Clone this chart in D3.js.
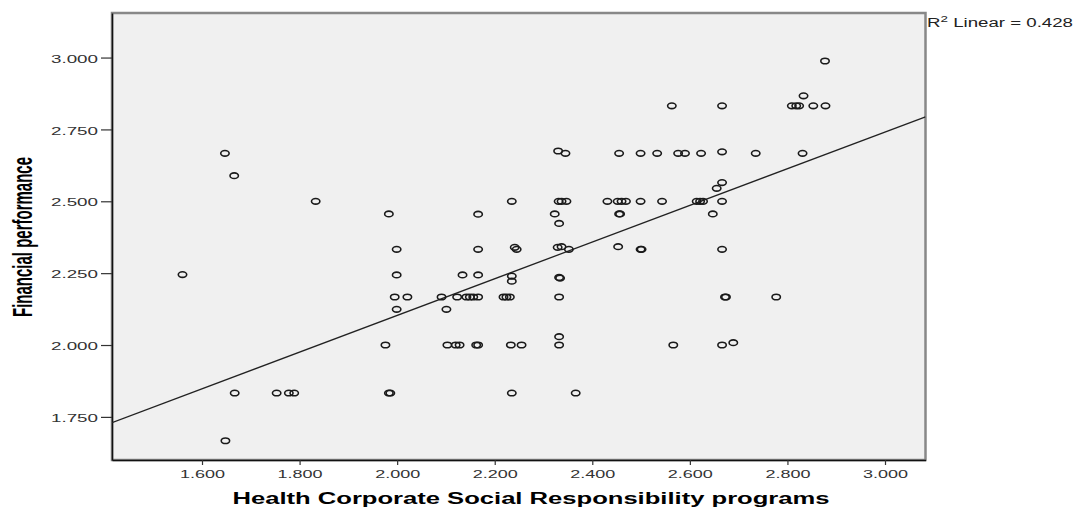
<!DOCTYPE html>
<html>
<head>
<meta charset="utf-8">
<script src="https://cdn.jsdelivr.net/npm/d3@7"></script>
<style>
  body { margin: 0; background: #fff; }
  text { font-family: "Liberation Sans", Arial, sans-serif; }
</style>
</head>
<body>
<div id="graph"></div>
<script>
const width = 1077,
  height = 508;

// Health CSR programs (x) and Financial performance (y), one entry per respondent
const csrScores = [
  1.560, 1.647, 1.666, 1.648, 1.667, 1.753, 1.778, 1.789, 1.833,
  1.983, 1.999, 1.999, 1.995, 2.021, 1.999, 1.976, 1.983, 1.986,
  2.091, 2.101, 2.103, 2.120, 2.128, 2.123, 2.134, 2.142, 2.149, 2.156, 2.166,
  2.166, 2.166, 2.166, 2.162, 2.166, 2.218, 2.224, 2.231, 2.235, 2.235, 2.235,
  2.241, 2.245, 2.233, 2.255, 2.235,
  2.330, 2.345, 2.323, 2.331, 2.337, 2.347, 2.332, 2.329, 2.337, 2.352,
  2.332, 2.334, 2.332, 2.332, 2.332, 2.366,
  2.431, 2.452, 2.460, 2.469, 2.499, 2.543, 2.455, 2.499, 2.533, 2.576,
  2.590, 2.623, 2.666, 2.735, 2.455, 2.457, 2.453, 2.499, 2.501, 2.563, 2.566,
  2.614, 2.621, 2.627, 2.666, 2.647, 2.655, 2.666, 2.666, 2.666, 2.672,
  2.674, 2.777, 2.666, 2.689, 2.809, 2.818, 2.824, 2.853, 2.878, 2.833,
  2.831, 2.877
];
const perfScores = [
  2.245, 2.667, 2.589, 1.667, 1.833, 1.833, 1.833, 1.833, 2.500,
  2.456, 2.333, 2.244, 2.167, 2.167, 2.124, 2.000, 1.833, 1.833,
  2.167, 2.124, 2.000, 2.000, 2.000, 2.167, 2.244, 2.167, 2.167, 2.167, 2.167,
  2.244, 2.333, 2.455, 2.000, 2.000, 2.167, 2.167, 2.167, 2.240, 2.222, 2.500,
  2.340, 2.333, 2.000, 2.000, 1.833,
  2.675, 2.667, 2.456, 2.500, 2.500, 2.500, 2.423, 2.340, 2.342, 2.333,
  2.235, 2.233, 2.167, 2.029, 2.000, 1.833,
  2.500, 2.500, 2.500, 2.500, 2.500, 2.500, 2.667, 2.667, 2.667, 2.667,
  2.667, 2.667, 2.672, 2.667, 2.456, 2.456, 2.342, 2.333, 2.333, 2.832, 2.000,
  2.500, 2.500, 2.500, 2.500, 2.456, 2.545, 2.565, 2.832, 2.333, 2.167,
  2.167, 2.167, 2.000, 2.008, 2.832, 2.832, 2.832, 2.832, 2.832, 2.867,
  2.667, 2.988
];

const xTicks = [1.6, 1.8, 2.0, 2.2, 2.4, 2.6, 2.8, 3.0];
const yTicks = [1.75, 2.0, 2.25, 2.5, 2.75, 3.0];

// fit line as printed by SPSS
const fitIntercept = 0.827,
  fitSlope = 0.638,
  rSquared = 0.428;

const data = csrScores.map((x, i) => ({ x: x, y: perfScores[i] }));

const plot = { left: 112, right: 925.5, top: 13, bottom: 460 };

const x = d3.scaleLinear()
  .domain([1.4155, 3.083])
  .range([plot.left, plot.right]);

const y = d3.scaleLinear()
  .domain([1.600, 3.155])
  .range([plot.bottom, plot.top]);

const svg = d3.select("#graph").append("svg")
  .attr("width", width)
  .attr("height", height);

svg.append("rect")
  .attr("x", plot.left)
  .attr("y", plot.top)
  .attr("width", plot.right - plot.left)
  .attr("height", plot.bottom - plot.top)
  .attr("fill", "#f0f0f0")
  .attr("stroke", "#888")
  .attr("stroke-width", 2.5);

svg.append("defs").append("clipPath").attr("id", "clip")
  .append("rect")
  .attr("x", plot.left)
  .attr("y", plot.top)
  .attr("width", plot.right - plot.left)
  .attr("height", plot.bottom - plot.top);

// axes
const fmt = d3.format(".3f");

const xAxis = svg.append("g")
  .attr("transform", `translate(0,${plot.bottom})`)
  .call(d3.axisBottom(x).tickValues(xTicks).tickFormat(fmt)
    .tickSizeInner(5).tickSizeOuter(0).tickPadding(5));

const yAxis = svg.append("g")
  .attr("transform", `translate(${plot.left},0)`)
  .call(d3.axisLeft(y).tickValues(yTicks).tickFormat(fmt)
    .tickSizeInner(11).tickSizeOuter(0).tickPadding(3));

[xAxis, yAxis].forEach(g => {
  g.select(".domain").attr("stroke", "#111").attr("stroke-width", 1.5);
  g.selectAll(".tick line").attr("stroke", "#333").attr("stroke-width", 1.2);
  g.selectAll(".tick text")
    .attr("fill", "#333")
    .attr("font-size", 11.5)
    .attr("font-family", "Liberation Sans, Arial, sans-serif")
    .attr("lengthAdjust", "spacingAndGlyphs");
});
xAxis.selectAll(".tick text").attr("textLength", 45);
yAxis.selectAll(".tick text").attr("textLength", 47).attr("dy", "0.40em");

// fit line
const fitY = v => fitIntercept + fitSlope * v;
svg.append("line")
  .attr("clip-path", "url(#clip)")
  .attr("x1", x(x.domain()[0]))
  .attr("y1", y(fitY(x.domain()[0])))
  .attr("x2", x(x.domain()[1]))
  .attr("y2", y(fitY(x.domain()[1])))
  .attr("stroke", "#222")
  .attr("stroke-width", 1.3);

// points
svg.append("g")
  .attr("fill", "none")
  .attr("stroke", "#1a1a1a")
  .attr("stroke-width", 1.6)
  .selectAll("ellipse")
  .data(data)
  .join("ellipse")
  .attr("cx", d => x(d.x))
  .attr("cy", d => y(d.y))
  .attr("rx", 4.2)
  .attr("ry", 2.8);

// titles
svg.append("text")
  .attr("x", 531)
  .attr("y", 504)
  .attr("text-anchor", "middle")
  .attr("font-size", 16)
  .attr("font-weight", "bold")
  .attr("fill", "#000")
  .attr("textLength", 597)
  .attr("lengthAdjust", "spacingAndGlyphs")
  .text("Health Corporate Social Responsibility programs");

svg.append("text")
  .attr("transform", "translate(32,237) rotate(-90)")
  .attr("text-anchor", "middle")
  .attr("font-size", 27)
  .attr("font-weight", "bold")
  .attr("fill", "#000")
  .attr("textLength", 160)
  .attr("lengthAdjust", "spacingAndGlyphs")
  .text("Financial performance");

const r2 = svg.append("text")
  .attr("x", 927)
  .attr("y", 27)
  .attr("font-size", 12.5)
  .attr("fill", "#222")
  .attr("textLength", 146)
  .attr("lengthAdjust", "spacingAndGlyphs");
r2.append("tspan").text("R");
r2.append("tspan").attr("font-size", 9).attr("dy", -5).text("2");
r2.append("tspan").attr("dy", 5).text(" Linear = " + rSquared.toFixed(3));
</script>
</body>
</html>
